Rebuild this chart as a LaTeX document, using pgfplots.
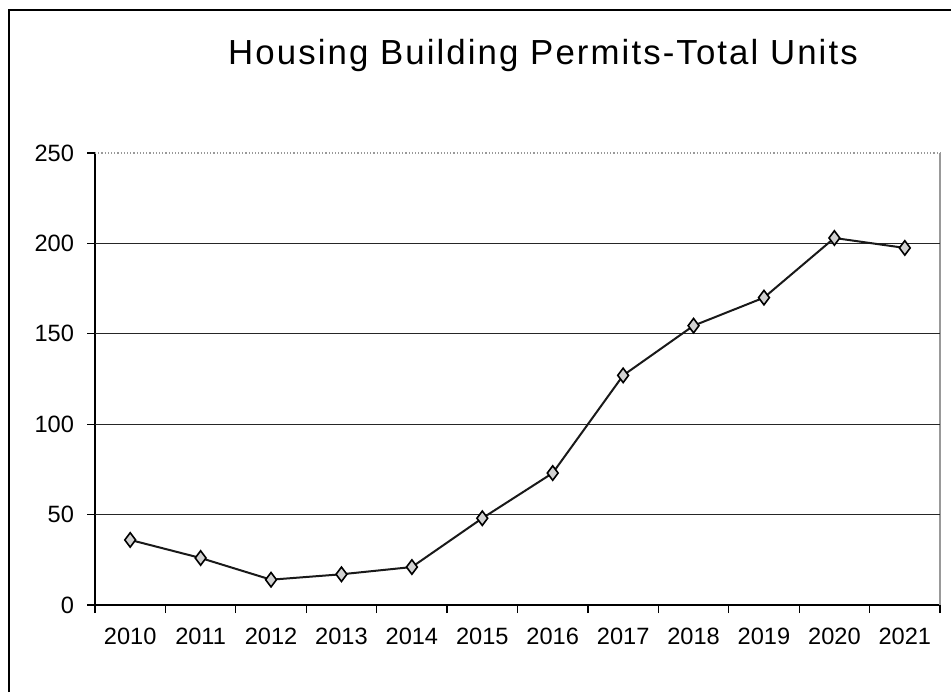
\documentclass[border=0pt]{standalone}
\usepackage{fontspec}
\setmainfont{Liberation Sans}
\usepackage{pgfplots}
\pgfplotsset{compat=1.18}
\begin{document}
\begin{tikzpicture}[x=1pt,y=1pt]
\useasboundingbox (0,0) rectangle (475.5,346);
\draw[line width=0.8pt] (4.5,0) -- (4.5,341) -- (475.5,341);
\node[anchor=base,font=\fontsize{17.4}{20}\selectfont\addfontfeatures{LetterSpace=6}] at (271.5,313.5) {Housing Building Permits-Total Units};
\begin{axis}[
  at={(47.5pt,43.5pt)}, anchor=south west,
  width=422.5pt, height=226pt, scale only axis,
  xmin=-0.5, xmax=11.5, ymin=0, ymax=250,
  xtick={-0.5,0.5,...,11.5},
  x tick label as interval,
  xticklabels={2010,2011,2012,2013,2014,2015,2016,2017,2018,2019,2020,2021},
  ytick={0,50,...,250},
  axis x line*=bottom, axis y line*=left,
  axis line style={-, black, line width=0.8pt},
  tick align=outside, major tick length=4pt,
  tick style={black, line width=0.6pt},
  tick label style={font=\fontsize{11.8}{13}\selectfont},
  /pgf/number format/assume math mode=true,
  xticklabel style={yshift=-4pt},
  yticklabel style={xshift=-3pt},
  clip=false,
]
\draw[gray!80, line width=0.6pt, densely dotted] (rel axis cs:0,1) -- (rel axis cs:1,1);
\draw[gray!80, line width=0.6pt] (rel axis cs:1,1) -- (rel axis cs:1,0);
\foreach \yy in {50,100,150,200} {
  \edef\tmp{\noexpand\draw[black!85, line width=0.6pt] (axis cs:-0.5,\yy) -- (axis cs:11.5,\yy);}
  \tmp
}
\addplot[black!90, line width=1pt, mark=diamond*, mark size=3.6pt,
  mark options={fill=gray!35, draw=black, line width=0.8pt}]
  coordinates {
  (0,36) (1,26) (2,14) (3,17) (4,21) (5,48) (6,73) (7,127) (8,154.5) (9,170) (10,203) (11,197.5)
  };
\end{axis}
\end{tikzpicture}
\end{document}
